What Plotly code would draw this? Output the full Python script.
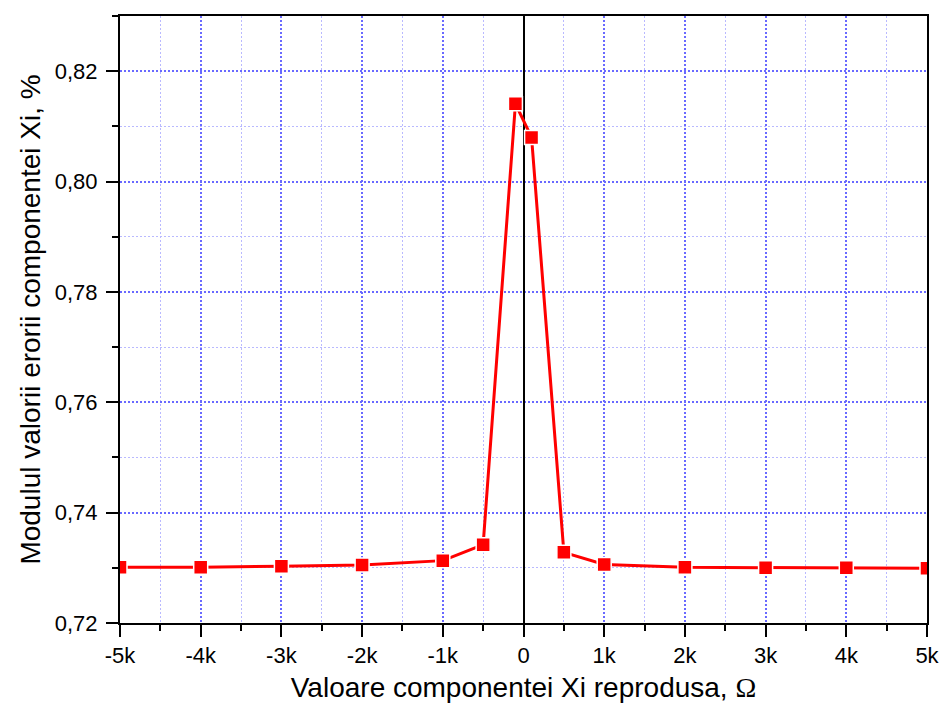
import plotly.graph_objects as go

# Reproduced component value (Ohm) and error-magnitude modulus (%)
x_values = [-5000, -4000, -3000, -2000, -1000, -500, -100, 100, 500, 1000, 2000, 3000, 4000, 5000]
y_values = [0.7301, 0.7301, 0.7303, 0.7305, 0.7313, 0.7342, 0.8141, 0.8080, 0.7328, 0.7306, 0.7301, 0.7300, 0.7300, 0.7299]

x_tick_vals = [-5000, -4000, -3000, -2000, -1000, 0, 1000, 2000, 3000, 4000, 5000]
x_tick_text = ["-5k", "-4k", "-3k", "-2k", "-1k", "0", "1k", "2k", "3k", "4k", "5k"]
y_tick_vals = [0.72, 0.74, 0.76, 0.78, 0.80, 0.82]

FONT = "Liberation Sans, Arial, sans-serif"
MAJOR_GRID = "rgb(105,105,255)"
MINOR_GRID = "rgb(185,185,255)"

fig = go.Figure()
fig.add_trace(go.Scatter(
    x=x_values, y=y_values,
    mode="lines+markers",
    line=dict(color="#ff0000", width=3),
    marker=dict(symbol="square", size=14, color="#ff0000",
                line=dict(color="white", width=1.5)),
    cliponaxis=True,
    showlegend=False,
))

axis_common = dict(
    showline=True, linecolor="black", linewidth=2, mirror=True,
    ticks="outside", ticklen=12, tickwidth=2, tickcolor="black",
    showgrid=True, gridcolor=MAJOR_GRID, gridwidth=1.6, griddash="2px,2px",
    tickfont=dict(family=FONT, size=22, color="black"),
    automargin=False,
)

fig.update_xaxes(
    range=[-5000, 5000],
    tickvals=x_tick_vals, ticktext=x_tick_text,
    zeroline=True, zerolinecolor="black", zerolinewidth=2,
    minor=dict(dtick=500, tick0=0, ticks="outside", ticklen=6, tickwidth=2, tickcolor="black",
               showgrid=True, gridcolor=MINOR_GRID, gridwidth=1, griddash="2px,2px"),
    title=dict(text="Valoare componentei Xi reprodusa, <span style=\"font-family:'Liberation Serif'\">Ω</span>",
               font=dict(family=FONT, size=28, color="black"), standoff=10),
    **axis_common,
)
fig.update_yaxes(
    range=[0.72, 0.83],
    tickvals=y_tick_vals, tickformat=".2f",
    ticklabelstandoff=4,
    zeroline=False,
    minor=dict(dtick=0.01, tick0=0.72, ticks="outside", ticklen=6, tickwidth=2, tickcolor="black",
               showgrid=True, gridcolor=MINOR_GRID, gridwidth=1, griddash="2px,2px"),
    title=dict(text="Modulul valorii erorii componentei Xi, %",
               font=dict(family=FONT, size=28, color="black"), standoff=6),
    **axis_common,
)

fig.update_layout(
    width=943, height=704,
    margin=dict(l=120, r=16, t=16, b=81),
    paper_bgcolor="white", plot_bgcolor="white",
    separators=",.",
)

fig.write_html("out.html")
